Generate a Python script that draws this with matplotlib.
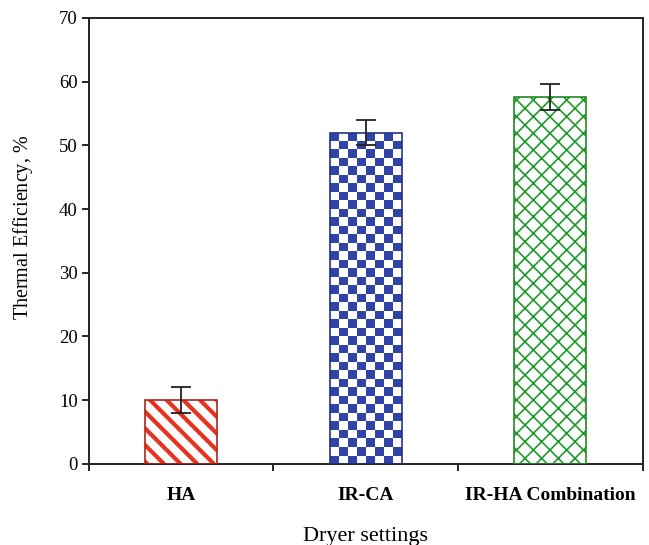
import matplotlib
matplotlib.use("Agg")
import matplotlib.pyplot as plt
import numpy as np

settings = ["HA", "IR-CA", "IR-HA Combination"]
efficiency = [10.0, 52.0, 57.6]
efficiency_err = [2.0, 2.0, 2.1]

plt.rcParams['font.family'] = ['Liberation Serif', 'DejaVu Serif']
plt.rcParams['mathtext.fontset'] = 'custom'
plt.rcParams['mathtext.it'] = 'Liberation Serif:italic'
plt.rcParams['mathtext.rm'] = 'Liberation Serif'

fig = plt.figure(figsize=(6.49, 5.45), dpi=100)
ax = fig.add_axes([0.137, 0.149, 0.853, 0.818])
ax.set_xlim(-0.5, 2.5)
ax.set_ylim(0, 70)
x = np.arange(len(settings))
w = 0.39

# HA: red diagonal stripes
plt.rcParams['hatch.linewidth'] = 3.0
b0 = ax.bar(x[0], efficiency[0], w, color='white', edgecolor='#e8321e', hatch='\\\\', linewidth=0, zorder=2)
# IR-HA: green lattice
plt.rcParams['hatch.linewidth'] = 1.2
b2 = ax.bar(x[2], efficiency[2], w, color='white', edgecolor='#1f9a2a', hatch='xx', linewidth=0, zorder=2)
# IR-CA: blue checkerboard drawn as image clipped to the bar
b1 = ax.bar(x[1], efficiency[1], w, color='white', linewidth=0, zorder=2)
fig.canvas.draw()
r = b1[0]
x0, y0 = r.get_x(), r.get_y()
x1, y1 = x0 + r.get_width(), y0 + r.get_height()
p0 = ax.transData.transform((x0, y0))
p1 = ax.transData.transform((x1, y1))
ncol = max(1, int(round((p1[0] - p0[0]) / 8.5)))
nrow = max(1, int(round((p1[1] - p0[1]) / 8.5)))
board = (np.add.outer(np.arange(nrow), np.arange(ncol)) % 2).astype(float)
cmap = matplotlib.colors.ListedColormap(['#2f44a6', 'white'])
im = ax.imshow(board, cmap=cmap, extent=(x0, x1, y0, y1), origin='lower',
               aspect='auto', interpolation='nearest', zorder=2.5)
im.set_clip_path(r)
ax.set_xlim(-0.5, 2.5)
ax.set_ylim(0, 70)

# outlines
edges = ['#b02418', '#24308a', '#1f8a28']
ax.bar(x, efficiency, w, fill=False, edgecolor=edges, linewidth=1.2, zorder=3)

ax.errorbar(x, efficiency, yerr=efficiency_err, fmt='none', ecolor='#222222',
            elinewidth=1.3, capsize=7, capthick=1.3, zorder=4)

ax.set_xticks(x)
ax.set_xticklabels(settings, fontsize=14, fontweight='bold')
ax.set_xticks([-0.5, 0.5, 1.5, 2.5], minor=True)
ax.tick_params(axis='x', which='major', length=0, pad=17)
ax.tick_params(axis='x', which='minor', length=5, width=1.2, direction='out')
ax.tick_params(axis='y', length=5, width=1.2, direction='out', labelsize=13.5, pad=3)
ax.set_yticks(np.arange(0, 71, 10))
for s in ax.spines.values():
    s.set_linewidth(1.4)
    s.set_color('#222222')

ax.set_ylabel(r'Thermal Efficiency, $\mathit{\%}$', fontsize=14.5)
ax.yaxis.set_label_coords(-0.098, 0.53)
ax.set_xlabel('Dryer settings', fontsize=16, labelpad=16)

fig.savefig('out.png', dpi=100)
